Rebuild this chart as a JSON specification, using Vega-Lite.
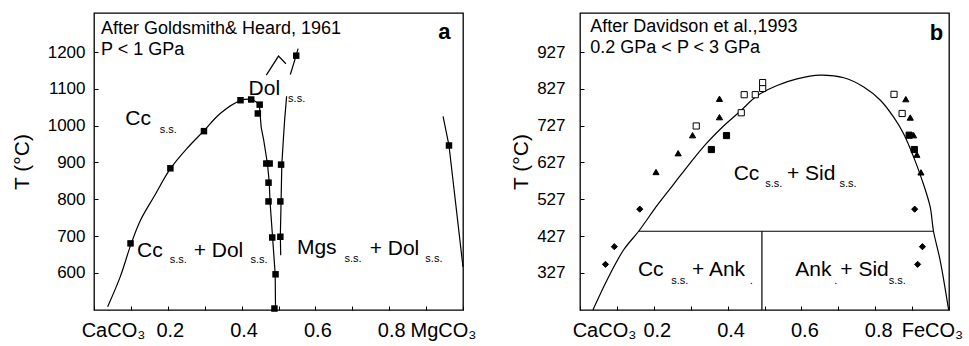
{
  "$schema": "https://vega.github.io/schema/vega-lite/v6.json",
  "padding": {"left": 10, "top": 12, "right": 0, "bottom": 0},
  "bounds": "flush",
  "spacing": 117,
  "config": {
    "font": "Liberation Sans",
    "view": {"stroke": "black", "strokeWidth": 1.3},
    "axis": {"grid": false, "domain": false, "tickColor": "black", "tickWidth": 1, "labelColor": "black", "titleColor": "black", "titleFontWeight": "normal", "labelFlush": false, "labelOverlap": false, "labelBound": false}
  },
  "datasets": {
    "a_pts": [
      {"x": 0.099, "T": 680}, {"x": 0.207, "T": 884}, {"x": 0.298, "T": 985}, {"x": 0.397, "T": 1069},
      {"x": 0.426, "T": 1071}, {"x": 0.449, "T": 1057}, {"x": 0.444, "T": 1033}, {"x": 0.467, "T": 897},
      {"x": 0.476, "T": 897}, {"x": 0.473, "T": 845}, {"x": 0.473, "T": 794}, {"x": 0.483, "T": 696},
      {"x": 0.492, "T": 596}, {"x": 0.489, "T": 503}, {"x": 0.507, "T": 894}, {"x": 0.505, "T": 794},
      {"x": 0.505, "T": 698}, {"x": 0.548, "T": 1190}, {"x": 0.962, "T": 946}
    ],
    "a_curve": [
      {"i": 1, "x": 0.037, "T": 508}, {"i": 2, "x": 0.071, "T": 589}, {"i": 3, "x": 0.101, "T": 680},
      {"i": 4, "x": 0.126, "T": 743}, {"i": 5, "x": 0.162, "T": 806}, {"i": 6, "x": 0.207, "T": 883},
      {"i": 7, "x": 0.252, "T": 938}, {"i": 8, "x": 0.297, "T": 985}, {"i": 9, "x": 0.342, "T": 1033},
      {"i": 10, "x": 0.397, "T": 1068}, {"i": 11, "x": 0.426, "T": 1071}, {"i": 12, "x": 0.448, "T": 1058}
    ],
    "a_lines": [
      {"id": "dolL", "i": 1, "x": 0.448, "T": 1058}, {"id": "dolL", "i": 2, "x": 0.453, "T": 996},
      {"id": "dolL", "i": 3, "x": 0.46, "T": 960}, {"id": "dolL", "i": 4, "x": 0.47, "T": 897},
      {"id": "dolL", "i": 5, "x": 0.475, "T": 845}, {"id": "dolL", "i": 6, "x": 0.477, "T": 794},
      {"id": "dolL", "i": 7, "x": 0.484, "T": 696}, {"id": "dolL", "i": 8, "x": 0.491, "T": 596},
      {"id": "dolL", "i": 9, "x": 0.492, "T": 499},
      {"id": "dolR", "i": 1, "x": 0.506, "T": 648}, {"id": "dolR", "i": 2, "x": 0.505, "T": 700},
      {"id": "dolR", "i": 3, "x": 0.507, "T": 794}, {"id": "dolR", "i": 4, "x": 0.509, "T": 894},
      {"id": "dolR", "i": 5, "x": 0.513, "T": 960}, {"id": "dolR", "i": 6, "x": 0.517, "T": 1020},
      {"id": "dolR", "i": 7, "x": 0.522, "T": 1080},
      {"id": "caret", "i": 1, "x": 0.467, "T": 1137}, {"id": "caret", "i": 2, "x": 0.5, "T": 1189},
      {"id": "caret", "i": 3, "x": 0.52, "T": 1168},
      {"id": "dolTop", "i": 1, "x": 0.532, "T": 1139}, {"id": "dolTop", "i": 2, "x": 0.548, "T": 1191},
      {"id": "dolTop", "i": 3, "x": 0.553, "T": 1209},
      {"id": "mgs", "i": 1, "x": 0.946, "T": 1025}, {"id": "mgs", "i": 2, "x": 0.962, "T": 946},
      {"id": "mgs", "i": 3, "x": 1.0, "T": 616}
    ],
    "a_main": [
      {"x": 0.085, "T": 1001, "label": "Cc"}, {"x": 0.419, "T": 1082, "label": "Dol"},
      {"x": 0.1165, "T": 644, "label": "Cc"}, {"x": 0.27, "T": 644, "label": "+ Dol"},
      {"x": 0.55, "T": 652, "label": "Mgs"}, {"x": 0.747, "T": 648, "label": "+ Dol"}
    ],
    "a_sub": [
      {"x": 0.178, "T": 980, "label": "s.s."}, {"x": 0.526, "T": 1064, "label": "s.s."},
      {"x": 0.205, "T": 626, "label": "s.s."}, {"x": 0.424, "T": 626, "label": "s.s."},
      {"x": 0.679, "T": 630, "label": "s.s."}, {"x": 0.898, "T": 630, "label": "s.s."}
    ],
    "a_ann": [
      {"x": 0.019, "T": 1250, "label": "After Goldsmith& Heard, 1961"},
      {"x": 0.019, "T": 1191, "label": "P < 1 GPa"}
    ],
    "a_letter": [{"x": 0.966, "T": 1234, "label": "a"}],
    "b_pts": [
      {"kind": "diamond", "x": 0.069, "T": 350}, {"kind": "diamond", "x": 0.093, "T": 398},
      {"kind": "diamond", "x": 0.162, "T": 500}, {"kind": "diamond", "x": 0.907, "T": 500},
      {"kind": "diamond", "x": 0.928, "T": 398}, {"kind": "diamond", "x": 0.915, "T": 350},
      {"kind": "triangle", "x": 0.206, "T": 601}, {"kind": "triangle", "x": 0.266, "T": 652},
      {"kind": "triangle", "x": 0.305, "T": 701}, {"kind": "triangle", "x": 0.378, "T": 750},
      {"kind": "triangle", "x": 0.378, "T": 800}, {"kind": "triangle", "x": 0.883, "T": 799},
      {"kind": "triangle", "x": 0.895, "T": 749}, {"kind": "triangle", "x": 0.904, "T": 701},
      {"kind": "triangle", "x": 0.913, "T": 648}, {"kind": "triangle", "x": 0.924, "T": 600},
      {"kind": "sqfill", "x": 0.356, "T": 662}, {"kind": "sqfill", "x": 0.397, "T": 700},
      {"kind": "sqfill", "x": 0.892, "T": 701}, {"kind": "sqfill", "x": 0.906, "T": 662},
      {"kind": "sqopen", "x": 0.315, "T": 726}, {"kind": "sqopen", "x": 0.437, "T": 762},
      {"kind": "sqopen", "x": 0.445, "T": 811}, {"kind": "sqopen", "x": 0.475, "T": 811},
      {"kind": "sqopen", "x": 0.495, "T": 828}, {"kind": "sqopen", "x": 0.495, "T": 844},
      {"kind": "sqopen", "x": 0.851, "T": 812}, {"kind": "sqopen", "x": 0.873, "T": 760}
    ],
    "b_curve": [
      {"i": 1, "x": 0.035, "T": 226}, {"i": 2, "x": 0.073, "T": 307}, {"i": 3, "x": 0.118, "T": 389},
      {"i": 4, "x": 0.159, "T": 440}, {"i": 5, "x": 0.209, "T": 510}, {"i": 6, "x": 0.254, "T": 568},
      {"i": 7, "x": 0.299, "T": 626}, {"i": 8, "x": 0.344, "T": 680}, {"i": 9, "x": 0.389, "T": 726},
      {"i": 10, "x": 0.434, "T": 766}, {"i": 11, "x": 0.48, "T": 808}, {"i": 12, "x": 0.534, "T": 836},
      {"i": 13, "x": 0.588, "T": 854}, {"i": 14, "x": 0.651, "T": 864}, {"i": 15, "x": 0.715, "T": 857},
      {"i": 16, "x": 0.769, "T": 832}, {"i": 17, "x": 0.814, "T": 796}, {"i": 18, "x": 0.85, "T": 750},
      {"i": 19, "x": 0.877, "T": 705}, {"i": 20, "x": 0.904, "T": 642}, {"i": 21, "x": 0.927, "T": 579},
      {"i": 22, "x": 0.949, "T": 506}, {"i": 23, "x": 0.958, "T": 440}, {"i": 24, "x": 0.976, "T": 361},
      {"i": 25, "x": 0.999, "T": 226}
    ],
    "b_lines": [
      {"id": "h", "i": 1, "x": 0.159, "T": 440}, {"id": "h", "i": 2, "x": 0.958, "T": 440},
      {"id": "v", "i": 1, "x": 0.493, "T": 440}, {"id": "v", "i": 2, "x": 0.493, "T": 226}
    ],
    "b_main": [
      {"x": 0.4165, "T": 579, "label": "Cc"}, {"x": 0.561, "T": 579, "label": "+ Sid"},
      {"x": 0.157, "T": 318, "label": "Cc"}, {"x": 0.3035, "T": 318, "label": "+ Ank"},
      {"x": 0.5835, "T": 318, "label": "Ank"}, {"x": 0.7055, "T": 318, "label": "+ Sid"}
    ],
    "b_sub": [
      {"x": 0.502, "T": 560, "label": "s.s."}, {"x": 0.703, "T": 560, "label": "s.s."},
      {"x": 0.247, "T": 298, "label": "s.s."}, {"x": 0.46, "T": 298, "label": "."},
      {"x": 0.689, "T": 298, "label": "."}, {"x": 0.8365, "T": 298, "label": "s.s."}
    ],
    "b_ann": [
      {"x": 0.028, "T": 981, "label": "After Davidson et al.,1993"},
      {"x": 0.028, "T": 924, "label": "0.2 GPa < P < 3 GPa"}
    ],
    "b_letter": [{"x": 0.984, "T": 960, "label": "b"}]
  },
  "hconcat": [
    {
      "width": 369,
      "height": 297,
      "encoding": {
        "x": {
          "field": "x", "type": "quantitative",
          "scale": {"domain": [0, 1], "nice": false, "zero": false},
          "axis": {
            "title": null,
            "values": [0, 0.1, 0.2, 0.3, 0.4, 0.5, 0.6, 0.7, 0.8, 0.9, 1],
            "labelExpr": "datum.value == 0 ? 'CaCO₃' : (datum.value == 1 ? 'MgCO₃' : (round(datum.value * 10) % 2 == 0 ? format(datum.value, '.1f') : ''))",
            "labelOffset": {"expr": "datum.value == 0 ? 19 : (datum.value == 1 ? -20 : 2)"},
            "tickSize": -4,
            "labelPadding": 14,
            "labelFontSize": 20
          }
        },
        "y": {
          "field": "T", "type": "quantitative",
          "scale": {"domain": [499, 1306], "nice": false, "zero": false},
          "axis": {
            "title": "T (°C)",
            "values": [600, 700, 800, 900, 1000, 1100, 1200],
            "format": "d",
            "tickSize": -4,
            "labelPadding": 13,
            "labelFontSize": 17,
            "titleFontSize": 21,
            "titlePadding": 15
          }
        }
      },
      "layer": [
        {
          "data": {"name": "a_curve"},
          "mark": {"type": "line", "interpolate": "catmull-rom", "color": "black", "strokeWidth": 1.2},
          "encoding": {"order": {"field": "i", "type": "quantitative"}}
        },
        {
          "data": {"name": "a_lines"},
          "mark": {"type": "line", "color": "black", "strokeWidth": 1.2},
          "encoding": {"detail": {"field": "id"}, "order": {"field": "i", "type": "quantitative"}}
        },
        {
          "data": {"name": "a_pts"},
          "mark": {"type": "point", "shape": "square", "filled": true, "color": "black", "size": 42, "opacity": 1}
        },
        {
          "data": {"name": "a_main"},
          "mark": {"type": "text", "align": "left", "baseline": "alphabetic", "fontSize": 21, "color": "black"},
          "encoding": {"text": {"field": "label"}}
        },
        {
          "data": {"name": "a_sub"},
          "mark": {"type": "text", "align": "left", "baseline": "alphabetic", "fontSize": 11, "color": "black"},
          "encoding": {"text": {"field": "label"}}
        },
        {
          "data": {"name": "a_ann"},
          "mark": {"type": "text", "align": "left", "baseline": "alphabetic", "fontSize": 18, "color": "black"},
          "encoding": {"text": {"field": "label"}}
        },
        {
          "data": {"name": "a_letter"},
          "mark": {"type": "text", "align": "right", "baseline": "alphabetic", "fontSize": 22, "fontWeight": "bold", "color": "black"},
          "encoding": {"text": {"field": "label"}}
        }
      ]
    },
    {
      "width": 369,
      "height": 297,
      "encoding": {
        "x": {
          "field": "x", "type": "quantitative",
          "scale": {"domain": [0, 1], "nice": false, "zero": false},
          "axis": {
            "title": null,
            "values": [0, 0.1, 0.2, 0.3, 0.4, 0.5, 0.6, 0.7, 0.8, 0.9, 1],
            "labelExpr": "datum.value == 0 ? 'CaCO₃' : (datum.value == 1 ? 'FeCO₃' : (round(datum.value * 10) % 2 == 0 ? format(datum.value, '.1f') : ''))",
            "labelOffset": {"expr": "datum.value == 0 ? 24 : (datum.value == 1 ? -17 : 3)"},
            "tickSize": -4,
            "labelPadding": 14,
            "labelFontSize": 20
          }
        },
        "y": {
          "field": "T", "type": "quantitative",
          "scale": {"domain": [226, 1033], "nice": false, "zero": false},
          "axis": {
            "title": "T (°C)",
            "values": [327, 427, 527, 627, 727, 827, 927],
            "format": "d",
            "tickSize": -4,
            "labelPadding": 19,
            "labelFontSize": 17,
            "titleFontSize": 21,
            "titlePadding": 5
          }
        }
      },
      "layer": [
        {
          "data": {"name": "b_curve"},
          "mark": {"type": "line", "interpolate": "catmull-rom", "color": "black", "strokeWidth": 1.2},
          "encoding": {"order": {"field": "i", "type": "quantitative"}}
        },
        {
          "data": {"name": "b_lines"},
          "mark": {"type": "line", "color": "black", "strokeWidth": 1.2},
          "encoding": {"detail": {"field": "id"}, "order": {"field": "i", "type": "quantitative"}}
        },
        {
          "data": {"name": "b_pts"},
          "mark": {"type": "point", "filled": true, "stroke": "black", "strokeWidth": 1, "size": 38, "opacity": 1},
          "encoding": {
            "shape": {"field": "kind", "type": "nominal", "legend": null,
              "scale": {"domain": ["diamond", "triangle", "sqfill", "sqopen"], "range": ["diamond", "triangle-up", "square", "square"]}},
            "fill": {"field": "kind", "type": "nominal", "legend": null,
              "scale": {"domain": ["diamond", "triangle", "sqfill", "sqopen"], "range": ["black", "black", "black", "white"]}}
          }
        },
        {
          "data": {"name": "b_main"},
          "mark": {"type": "text", "align": "left", "baseline": "alphabetic", "fontSize": 21, "color": "black"},
          "encoding": {"text": {"field": "label"}}
        },
        {
          "data": {"name": "b_sub"},
          "mark": {"type": "text", "align": "left", "baseline": "alphabetic", "fontSize": 11, "color": "black"},
          "encoding": {"text": {"field": "label"}}
        },
        {
          "data": {"name": "b_ann"},
          "mark": {"type": "text", "align": "left", "baseline": "alphabetic", "fontSize": 18, "color": "black"},
          "encoding": {"text": {"field": "label"}}
        },
        {
          "data": {"name": "b_letter"},
          "mark": {"type": "text", "align": "right", "baseline": "alphabetic", "fontSize": 22, "fontWeight": "bold", "color": "black"},
          "encoding": {"text": {"field": "label"}}
        }
      ]
    }
  ]
}
